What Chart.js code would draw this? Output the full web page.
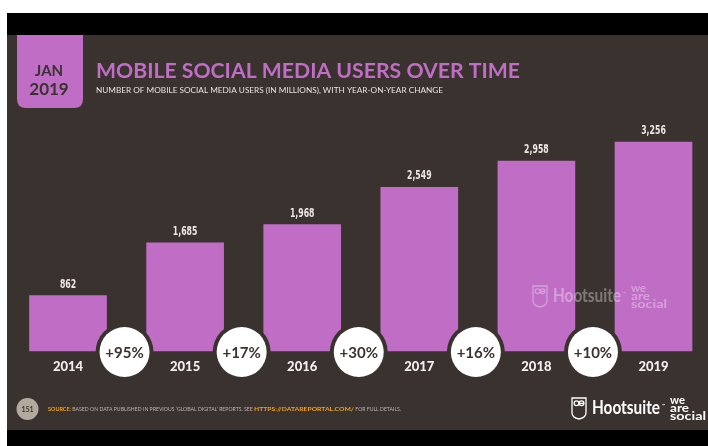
<!DOCTYPE html>
<html>
<head>
<meta charset="utf-8">
<script src="https://cdn.jsdelivr.net/npm/chart.js@4/dist/chart.umd.min.js"></script>
<style>
  html,body{margin:0;padding:0;background:#fff;}
  canvas{display:block;}
</style>
</head>
<body>
<canvas id="slide" width="708" height="446"></canvas>
<script>
// ====== data ======
const years  = ['2014', '2015', '2016', '2017', '2018', '2019'];
const users  = [862, 1685, 1968, 2549, 2958, 3256];   // millions
const yoy    = ['+95%', '+17%', '+30%', '+16%', '+10%'];

// ====== colours / fonts ======
const BG     = '#3a322e';
const PURPLE = '#c06dc6';
const INK    = '#3a322e';
const GEO    = 'Lato, "Open Sans", sans-serif';
const NARROW = '"DejaVu Sans Condensed", "DejaVu Sans", sans-serif';

const fmt = (n) => n.toLocaleString('en-US');

// draw text squeezed (or stretched) to an exact width
function fitText(ctx, text, x, y, w){
  const m = ctx.measureText(text).width;
  ctx.save();
  ctx.translate(x, y);
  ctx.scale(w / m, 1);
  ctx.fillText(text, 0, 0);
  ctx.restore();
}

// same thing but with a fixed horizontal squeeze
function squeezeText(ctx, text, x, y, k){
  ctx.save();
  ctx.translate(x, y);
  ctx.scale(k, 1);
  ctx.fillText(text, 0, 0);
  ctx.restore();
}

function roundRect(ctx, x, y, w, h, r){
  ctx.beginPath();
  ctx.moveTo(x, y);
  ctx.lineTo(x + w, y);
  ctx.lineTo(x + w, y + h - r);
  ctx.quadraticCurveTo(x + w, y + h, x + w - r, y + h);
  ctx.lineTo(x + r, y + h);
  ctx.quadraticCurveTo(x, y + h, x, y + h - r);
  ctx.closePath();
}

function owl(ctx, x, y, s, color){
  // little shield-shaped owl mark
  ctx.save();
  ctx.strokeStyle = color;
  ctx.lineWidth = 1.3;
  ctx.beginPath();
  ctx.moveTo(x, y);
  ctx.lineTo(x + s, y);
  ctx.lineTo(x + s, y + s * 1.05);
  ctx.quadraticCurveTo(x + s, y + s * 1.4, x + s * 0.5, y + s * 1.5);
  ctx.quadraticCurveTo(x, y + s * 1.4, x, y + s * 1.05);
  ctx.closePath();
  ctx.stroke();
  ctx.beginPath();
  ctx.arc(x + s * 0.32, y + s * 0.38, s * 0.17, 0, Math.PI * 2);
  ctx.arc(x + s * 0.68, y + s * 0.38, s * 0.17, 0, Math.PI * 2);
  ctx.stroke();
  ctx.restore();
}

function brand(ctx, x, y, alpha){
  ctx.save();
  ctx.globalAlpha = alpha;
  ctx.fillStyle = '#fff';
  owl(ctx, x - 20, y - 10, 14, '#fff');
  ctx.font = 'bold 18px ' + GEO;
  ctx.textBaseline = 'middle';
  ctx.textAlign = 'left';
  fitText(ctx, 'Hootsuite', x, y, 68);
  ctx.font = 'bold 4px ' + GEO;
  ctx.fillText('™', x + 70, y - 2);
  ctx.font = 'bold 11px ' + GEO;
  ctx.textBaseline = 'alphabetic';
  fitText(ctx, 'we', x + 78, y - 4, 15);
  fitText(ctx, 'are', x + 78, y + 4, 19);
  fitText(ctx, 'social', x + 78, y + 12, 36);
  ctx.restore();
}

// ====== slide frame: background, heading, footer ======
const slidePlugin = {
  id: 'slide',
  beforeDraw(chart){
    const ctx = chart.ctx;
    ctx.save();
    ctx.fillStyle = '#fff';
    ctx.fillRect(0, 0, 708, 446);
    ctx.fillStyle = '#000';
    ctx.fillRect(7, 13, 701, 22);
    ctx.fillRect(7, 430, 701, 16);
    ctx.fillStyle = BG;
    ctx.fillRect(7, 35, 701, 395);

    // date badge
    ctx.fillStyle = PURPLE;
    roundRect(ctx, 17, 35, 66, 73, 9);
    ctx.fill();
    ctx.fillStyle = INK;
    ctx.textAlign = 'center';
    ctx.textBaseline = 'alphabetic';
    ctx.font = 'bold 15px ' + GEO;
    ctx.fillText('JAN', 49, 76);
    ctx.font = 'bold 17px ' + GEO;
    ctx.fillText('2019', 49, 95);

    // heading
    ctx.textAlign = 'left';
    ctx.fillStyle = PURPLE;
    ctx.font = 'bold 21px ' + GEO;
    fitText(ctx, 'MOBILE SOCIAL MEDIA USERS OVER TIME', 96, 78, 424);
    ctx.fillStyle = '#e6e2de';
    ctx.font = '8px ' + GEO;
    fitText(ctx, 'NUMBER OF MOBILE SOCIAL MEDIA USERS (IN MILLIONS), WITH YEAR-ON-YEAR CHANGE', 96, 93, 347);

    // footer
    ctx.fillStyle = '#b3aa9f';
    ctx.beginPath();
    ctx.arc(27.5, 409, 11, 0, Math.PI * 2);
    ctx.fill();
    ctx.fillStyle = INK;
    ctx.font = 'bold 7px ' + GEO;
    ctx.textAlign = 'center';
    ctx.textBaseline = 'middle';
    ctx.fillText('151', 27.5, 409.5);

    ctx.textAlign = 'left';
    ctx.textBaseline = 'alphabetic';
    const parts = [
      ['SOURCE:', '#f0a21f', 'bold ', 23],
      [' BASED ON DATA PUBLISHED IN PREVIOUS \u2018GLOBAL DIGITAL\u2019 REPORTS. SEE ', '#bdb6ae', '', 183],
      ['HTTPS://DATAREPORTAL.COM/', '#f0a21f', 'bold ', 100],
      [' FOR FULL DETAILS.', '#bdb6ae', '', 47]
    ];
    let px = 48;
    parts.forEach(([t, c, w, width]) => {
      ctx.font = w + '5px ' + GEO;
      ctx.fillStyle = c;
      fitText(ctx, t, px, 411, width);
      px += width;
    });

    brand(ctx, 592, 408, 1);
    ctx.restore();
  },
  afterDatasetsDraw(chart){
    const ctx = chart.ctx;
    const meta = chart.getDatasetMeta(0);
    ctx.save();

    // faded watermark across the last bars
    brand(ctx, 553, 296, 0.35);

    ctx.textAlign = 'center';
    meta.data.forEach((bar, i) => {
      // value above bar, tall and condensed
      ctx.fillStyle = '#ece8e4';
      ctx.font = 'bold 12px ' + NARROW;
      ctx.textBaseline = 'alphabetic';
      squeezeText(ctx, fmt(users[i]), bar.x, bar.y - 8, 0.72);
      // year under bar
      ctx.fillStyle = '#f2f0ee';
      ctx.font = '900 13px ' + GEO;
      ctx.textBaseline = 'middle';
      ctx.fillText(years[i], bar.x, 367);
    });

    // year-on-year change bubbles between bars
    yoy.forEach((t, i) => {
      const cx = (meta.data[i].x + meta.data[i + 1].x) / 2 - 2;
      const cy = 352;
      ctx.fillStyle = BG;
      ctx.beginPath();
      ctx.arc(cx, cy, 29, 0, Math.PI * 2);
      ctx.fill();
      ctx.fillStyle = '#fff';
      ctx.beginPath();
      ctx.arc(cx, cy, 25, 0, Math.PI * 2);
      ctx.fill();
      ctx.fillStyle = INK;
      ctx.font = 'bold 15px ' + GEO;
      ctx.textBaseline = 'middle';
      ctx.fillText(t, cx, cy + 1);
    });
    ctx.restore();
  }
};

// ====== chart ======
new Chart(document.getElementById('slide'), {
  type: 'bar',
  data: {
    labels: years,
    datasets: [{
      data: users,
      backgroundColor: PURPLE,
      borderWidth: 0,
      barThickness: 77,
      clip: false
    }]
  },
  options: {
    responsive: false,
    animation: false,
    events: [],
    layout: { padding: { left: 68, right: 54.5, top: 126.3, bottom: 95 } },
    scales: {
      x: { type: 'category', offset: false, display: false, grid: { display: false } },
      y: { min: 0, max: 3500, display: false, grid: { display: false } }
    },
    plugins: { legend: { display: false }, tooltip: { enabled: false } }
  },
  plugins: [slidePlugin]
});
</script>
</body>
</html>
